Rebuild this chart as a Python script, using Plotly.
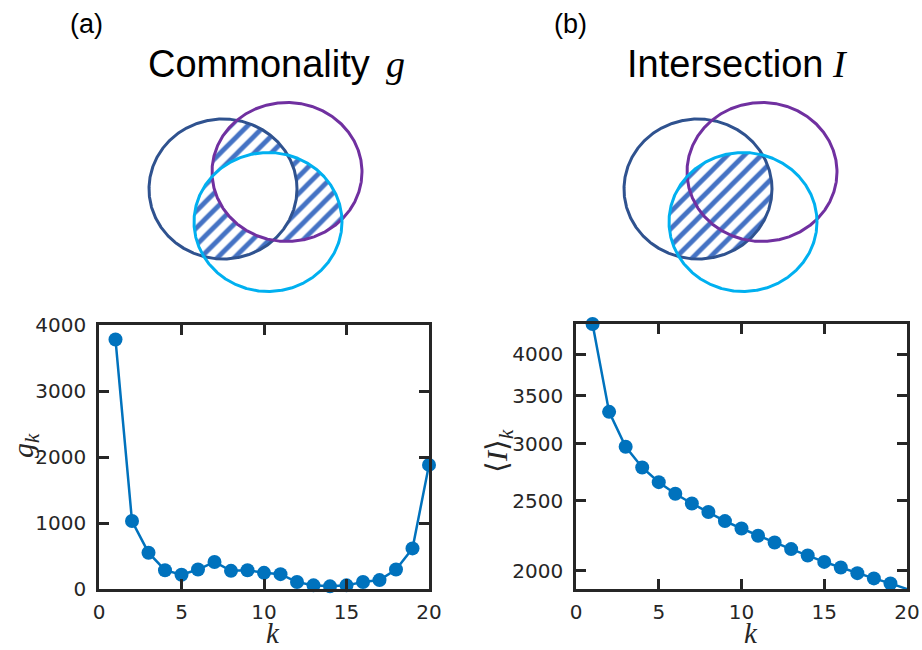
import numpy as np
import plotly.graph_objects as go

# ---------------- data ----------------
k_vals = list(range(1, 21))
g_vals = [3780, 1030, 550, 285, 215, 295, 410, 275, 285, 245,
          225, 105, 55, 40, 55, 105, 135, 295, 615, 1880]
I_vals = [4404, 3324, 2973, 2782, 2654, 2557, 2479, 2412, 2343, 2288,
          2235, 2188, 2142, 2098, 2056, 2019, 1983, 1950, 1919, 1885]
x_ticks = [0, 5, 10, 15, 20]
g_ticks = [0, 1000, 2000, 3000, 4000]
I_ticks = [2000, 2500, 3000, 3500, 4000]

panel_labels = ["(a)", "(b)"]
panel_titles = ["Commonality", "Intersection"]
panel_symbols = ["g", "I"]

W, H = 922, 650
BLUE = "#0072BD"
AX = "#262626"
C_DARK = "#2F528F"
C_PURPLE = "#7030A0"
C_LIGHT = "#00B0F0"
HATCH = "#4472C4"


def px(x):
    return x / W


def py(y):
    return 1 - y / H


fig = go.Figure()

# ---------------- line plots ----------------
fig.add_trace(go.Scatter(x=k_vals, y=g_vals, mode="lines+markers",
                         line=dict(color=BLUE, width=2.5),
                         marker=dict(color=BLUE, size=14),
                         cliponaxis=False, xaxis="x", yaxis="y",
                         showlegend=False))
fig.add_trace(go.Scatter(x=k_vals, y=I_vals, mode="lines+markers",
                         line=dict(color=BLUE, width=2.5),
                         marker=dict(color=BLUE, size=14),
                         cliponaxis=False, xaxis="x2", yaxis="y2",
                         showlegend=False))

# ---------------- Venn diagrams ----------------
base_circles = {
    "dark": (223, 189, 74, 70, C_DARK),
    "purple": (287, 172, 75, 69.5, C_PURPLE),
    "light": (268, 222, 74, 69.5, C_LIGHT),
}
venn_offsets = [0, 475]


def ell_pts(e, n=720):
    cx, cy, rx, ry = e[:4]
    t = np.linspace(0, 2 * np.pi, n, endpoint=False)
    return cx + rx * np.cos(t), cy + ry * np.sin(t)


def inside(x, y, e):
    cx, cy, rx, ry = e[:4]
    return ((x - cx) / rx) ** 2 + ((y - cy) / ry) ** 2 <= 1.0 + 1e-9


def intersection(ells):
    xs, ys = [], []
    for i, e in enumerate(ells):
        x, y = ell_pts(e)
        m = np.ones_like(x, dtype=bool)
        for j, o in enumerate(ells):
            if j != i:
                m &= inside(x, y, o)
        xs.append(x[m])
        ys.append(y[m])
    x = np.concatenate(xs)
    y = np.concatenate(ys)
    a = np.arctan2(y - y.mean(), x - x.mean())
    o = np.argsort(a)
    x, y = x[o], y[o]
    return list(x) + [x[0]], list(y) + [y[0]]


def shifted(name, dx):
    cx, cy, rx, ry, c = base_circles[name]
    return (cx + dx, cy, rx, ry, c)


def hatch_region(x, y):
    fig.add_trace(go.Scatter(x=x, y=y, mode="lines", fill="toself",
                             line=dict(width=0, color="rgba(0,0,0,0)"),
                             fillcolor="white",
                             fillpattern=dict(shape="/", fgcolor=HATCH,
                                              bgcolor="white", size=12,
                                              solidity=0.4,
                                              fillmode="replace"),
                             xaxis="x3", yaxis="y3", showlegend=False,
                             hoverinfo="skip"))


def white_region(x, y):
    fig.add_trace(go.Scatter(x=x, y=y, mode="lines", fill="toself",
                             line=dict(width=0, color="rgba(0,0,0,0)"),
                             fillcolor="white",
                             xaxis="x3", yaxis="y3", showlegend=False,
                             hoverinfo="skip"))


# (a) regions belonging to exactly two sets
dx = venn_offsets[0]
D, P, L = shifted("dark", dx), shifted("purple", dx), shifted("light", dx)
for pair in [(D, P), (D, L), (P, L)]:
    hatch_region(*intersection(list(pair)))
white_region(*intersection([D, P, L]))

# (b) intersection of dark and light sets
dx = venn_offsets[1]
D2, P2, L2 = shifted("dark", dx), shifted("purple", dx), shifted("light", dx)
hatch_region(*intersection([D2, L2]))

# circle outlines
for dx in venn_offsets:
    for name in ["dark", "purple", "light"]:
        e = shifted(name, dx)
        x, y = ell_pts(e, 720)
        fig.add_trace(go.Scatter(x=list(x) + [x[0]], y=list(y) + [y[0]],
                                 mode="lines",
                                 line=dict(color=e[4], width=3),
                                 xaxis="x3", yaxis="y3", showlegend=False,
                                 hoverinfo="skip"))

# ---------------- axes ----------------
tickfont = dict(family="DejaVu Sans", size=20, color=AX)
common = dict(showline=True, linecolor=AX, linewidth=2.6, mirror="allticks",
              ticks="inside", ticklen=10, tickwidth=2.6, tickcolor=AX,
              showgrid=False, zeroline=False, tickfont=tickfont,
              automargin=False)

fig.update_layout(
    template="none",
    width=W, height=H,
    margin=dict(l=0, r=0, t=0, b=0, pad=0, autoexpand=False),
    paper_bgcolor="white",
    plot_bgcolor="rgba(0,0,0,0)",
    xaxis=dict(domain=[px(99), px(429)], range=[0, 20], tickvals=x_ticks,
               anchor="y", ticklabelstandoff=3, **common),
    yaxis=dict(domain=[py(589), py(325)], range=[0, 4000], tickvals=g_ticks,
               anchor="x", ticklabelstandoff=6, **common),
    xaxis2=dict(domain=[px(576), px(907)], range=[0, 20], tickvals=x_ticks,
                anchor="y2", ticklabelstandoff=3, **common),
    yaxis2=dict(domain=[py(589), py(324)], type="log",
                range=[np.log10(min(I_vals)), np.log10(max(I_vals))],
                tickvals=I_ticks, anchor="x2", ticklabelstandoff=6, **common),
    xaxis3=dict(domain=[0, 1], range=[0, W], visible=False, anchor="y3",
                automargin=False),
    yaxis3=dict(domain=[0, 1], range=[H, 0], visible=False, anchor="x3",
                automargin=False),
)

# ---------------- text ----------------
serif = "Liberation Serif"
sans = "Liberation Sans"
ann = []
# panel labels
for lab, xc in zip(panel_labels, [86, 570]):
    ann.append(dict(x=px(xc), y=py(24), xref="paper", yref="paper",
                    text=lab, showarrow=False, xanchor="center",
                    yanchor="middle",
                    font=dict(family=sans, size=27, color="black")))
# titles: word and italic symbol
for t, xl in zip(panel_titles, [146, 625]):
    ann.append(dict(x=px(xl), y=py(64), xref="paper", yref="paper",
                    text=t, showarrow=False, xanchor="left",
                    yanchor="middle",
                    font=dict(family=sans, size=38, color="black")))
for s, xl in zip(panel_symbols, [384, 830]):
    ann.append(dict(x=px(xl), y=py(64), xref="paper", yref="paper",
                    text="<i>" + s + "</i>", showarrow=False,
                    xanchor="left", yanchor="middle",
                    font=dict(family=serif, size=38, color="black")))
# x-axis titles
for xc in [273, 751]:
    ann.append(dict(x=px(xc), y=py(633), xref="paper", yref="paper",
                    text="<i>k</i>", showarrow=False, xanchor="center",
                    yanchor="middle",
                    font=dict(family=serif, size=29, color=AX)))
# y-axis titles
ann.append(dict(x=px(25), y=py(446), xref="paper", yref="paper",
                text="<i>g</i><sub><i>k</i></sub>", showarrow=False,
                textangle=-90, xanchor="center", yanchor="middle",
                font=dict(family=serif, size=30, color=AX)))
ann.append(dict(x=px(499), y=py(451), xref="paper", yref="paper",
                text="\u27e8<i>I</i>\u27e9<sub><i>k</i></sub>",
                showarrow=False, textangle=-90, xanchor="center",
                yanchor="middle",
                font=dict(family=serif, size=30, color=AX)))
fig.update_layout(annotations=ann)

fig.write_html("out.html")
